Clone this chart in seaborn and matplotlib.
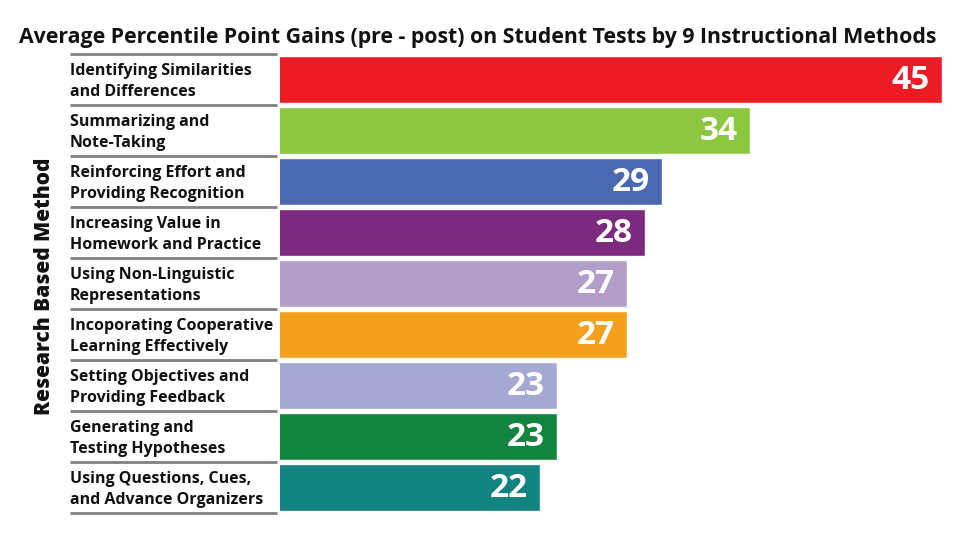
import matplotlib
matplotlib.use("Agg")
import matplotlib.pyplot as plt
import matplotlib.transforms as mtransforms
import seaborn as sns
import pandas as pd

methods = [
    "Identifying Similarities\nand Differences",
    "Summarizing and\nNote-Taking",
    "Reinforcing Effort and\nProviding Recognition",
    "Increasing Value in\nHomework and Practice",
    "Using Non-Linguistic\nRepresentations",
    "Incoporating Cooperative\nLearning Effectively",
    "Setting Objectives and\nProviding Feedback",
    "Generating and\nTesting Hypotheses",
    "Using Questions, Cues,\nand Advance Organizers",
]
gains = [45, 34, 29, 28, 27, 27, 23, 23, 22]
colors = ["#ED1C24", "#8DC63F", "#4A68B0", "#7B2A7F", "#B39DC9",
          "#F59F1F", "#A5A8D2", "#118540", "#118380"]
title = "Average Percentile Point Gains (pre - post) on Student Tests by 9 Instructional Methods"
ylabel = "Research Based Method"

sns.set_theme(style="white")
plt.rcParams['font.family'] = ['Open Sans', 'DejaVu Sans']

df = pd.DataFrame({"method": methods, "gain": gains})

W, H = 965, 533
fig = plt.figure(figsize=(W / 100, H / 100), dpi=100)
ax = fig.add_axes([280 / W, 1 - 513 / H, (945 - 280) / W, (513 - 54) / H])

sns.barplot(data=df, x="gain", y="method", hue="method", palette=colors,
            legend=False, orient="h", width=0.91, ax=ax, saturation=1)

ax.set_xlim(7.15, 45.15)
ax.set_ylim(len(methods) - 0.5, -0.5)
for s in ax.spines.values():
    s.set_visible(False)
ax.set_xticks([])
ax.set_yticks([])
ax.set_xlabel("")
ax.set_ylabel("")

# value labels inside bars
for i, v in enumerate(gains):
    ax.annotate(str(v), xy=(v, i), xytext=(-9, -1), textcoords="offset points",
                ha="right", va="center", color="white", fontsize=24,
                fontweight="bold")

# category labels and separator lines
trans = mtransforms.blended_transform_factory(fig.transFigure, ax.transData)
text_trans = trans + mtransforms.ScaledTranslation(0, -2 / 100, fig.dpi_scale_trans)
for i, m in enumerate(methods):
    ax.text(70 / W, i, m, transform=text_trans, ha="left", va="center",
            fontsize=11.5, fontweight="bold", color="#111111",
            linespacing=1.4, clip_on=False)
for yb in [-0.5 + k for k in range(len(methods) + 1)]:
    ax.plot([70 / W, 277 / W], [yb, yb], transform=trans, color="#808080",
            lw=2, clip_on=False, solid_capstyle="butt")

fig.text(45 / W, 1 - 286 / H, ylabel, rotation=90, ha="center", va="center",
         fontsize=15, fontweight="heavy", color="#111111")
fig.text(478 / W, 1 - 37 / H, title, ha="center", va="center",
         fontsize=15.3, fontweight="bold", color="#111111")

fig.savefig("out.png", dpi=100, facecolor="white")
